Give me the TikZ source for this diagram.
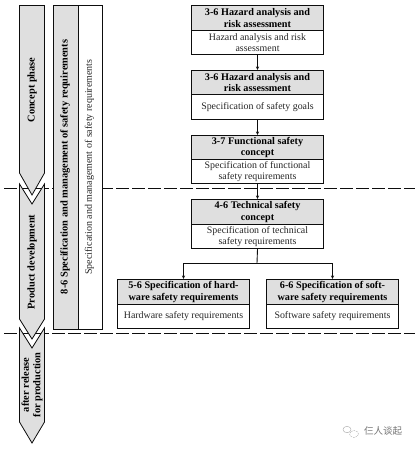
\documentclass[tikz,border=0pt]{standalone}
\usepackage{fontspec}
\setmainfont{Liberation Serif}
\newfontfamily\cjkwm{Noto Sans CJK SC}
\usetikzlibrary{arrows.meta}
\definecolor{headgray}{gray}{0.875}
\definecolor{linedark}{gray}{0.05}
\tikzset{
  x=1pt,y=-1pt,
  headbox/.style={draw=linedark,line width=1pt,fill=headgray,minimum height=#1,anchor=north west,minimum width=132pt,inner sep=0pt,align=center,font=\fontsize{10.2}{11.8}\selectfont\bfseries},
  bodybox/.style={draw=linedark,line width=1pt,fill=white,minimum height=#1,anchor=north west,minimum width=132pt,inner sep=0pt,align=center,text=black!85,font=\fontsize{9.9}{11}\selectfont},
  phase/.style={draw=linedark,line width=0.8pt,fill=headgray},
  sep/.style={line width=0.9pt,dash pattern=on 13pt off 3pt,draw=linedark},
  link/.style={line width=0.9pt,draw=linedark,-{Stealth[length=3.6pt,width=3.2pt]}},
  sidehead/.style={rotate=90,font=\fontsize{10.4}{11.5}\selectfont\bfseries,align=center,inner sep=0pt},
  sidebody/.style={rotate=90,font=\fontsize{10}{11}\selectfont,text=black!85,align=center,inner sep=0pt},
}
\begin{document}
\begin{tikzpicture}
\useasboundingbox (0,0) rectangle (415,449);
% separators
\coordinate (s1l) at (4,188); \coordinate (s1r) at (415,188);
\coordinate (s2l) at (4,333); \coordinate (s2r) at (415,333);
\draw[sep] (s1l) -- (s1r);
\draw[sep] (s2l) -- (s2r);
% phase arrows
\draw[phase] (19.5,184) -- (32,204) -- (44.5,184) -- (44.5,319) -- (32,339) -- (19.5,319) -- cycle;
\draw[phase] (19.5,328) -- (32,348) -- (44.5,328) -- (44.5,422) -- (32,443) -- (19.5,422) -- cycle;
\draw[phase] (19.5,5.5) -- (44.5,5.5) -- (44.5,173) -- (32,195) -- (19.5,173) -- cycle;
\node[sidehead] (p1) at (32,90) {Concept phase};
\node[sidehead] (p2) at (32,262) {Product development};
\node[sidehead] (p3) at (32,385) {after release\\for production};
% side band
\node[draw=linedark,line width=1pt,fill=headgray,anchor=north west,minimum width=25pt,minimum height=323pt,inner sep=0pt] (bandh) at (52.5,5.5) {};
\node[draw=linedark,line width=1pt,fill=white,anchor=north west,minimum width=24pt,minimum height=323pt,inner sep=0pt] (bandb) at (77.5,5.5) {};
\node[sidehead] (bandht) at (65,167) {8-6 Specification and management of safety requirements};
\node[sidebody] (bandbt) at (89.5,167) {Specification and management of safety requirements};
% boxes
\node[headbox=25pt] (h1) at (191,5) {3-6 Hazard analysis and\\risk assessment};
\node[bodybox=24pt] (b1) at (191,30) {Hazard analysis and risk\\assessment};
\node[headbox=24pt] (h2) at (191,70) {3-6 Hazard analysis and\\risk assessment};
\node[bodybox=25pt] (b2) at (191,94) {Specification of safety goals};
\node[headbox=24pt] (h3) at (191,135) {3-7 Functional safety\\concept};
\node[bodybox=24pt] (b3) at (191,159) {Specification of functional\\safety requirements};
\node[headbox=25pt] (h4) at (191,199) {4-6 Technical safety\\concept};
\node[bodybox=24pt] (b4) at (191,224) {Specification of technical\\safety requirements};
\node[headbox=25pt] (h5) at (117,279) {5-6 Specification of hard-\\ware safety requirements};
\node[bodybox=24pt] (b5) at (117,304) {Hardware safety requirements};
\node[headbox=25pt] (h6) at (266,279) {6-6 Specification of soft-\\ware safety requirements};
\node[bodybox=24pt] (b6) at (266,304) {Software safety requirements};
% connectors
\draw[link] (b1.south) -- (h2.north);
\draw[link] (b2.south) -- (h3.north);
\draw[link] (b3.south) -- (h4.north);
\coordinate (fork) at (257,263);
\draw[line width=0.9pt,draw=linedark] (b4.south) -- (fork);
\draw[link] (fork) -| (h5.north);
\draw[link] (fork) -| (h6.north);
% watermark
\draw[black!35,line width=0.4pt] (347,429.5) ellipse (4pt and 3.2pt);
\draw[black!35,line width=0.4pt,dash pattern=on 1.5pt off 1pt] (354,434) ellipse (4.5pt and 3.5pt);
\node[text=black!55,inner sep=0pt,anchor=west,font=\cjkwm\fontsize{9.5}{9.5}\selectfont] (wm) at (364,431) {仨人谈起};
\end{tikzpicture}
\end{document}
